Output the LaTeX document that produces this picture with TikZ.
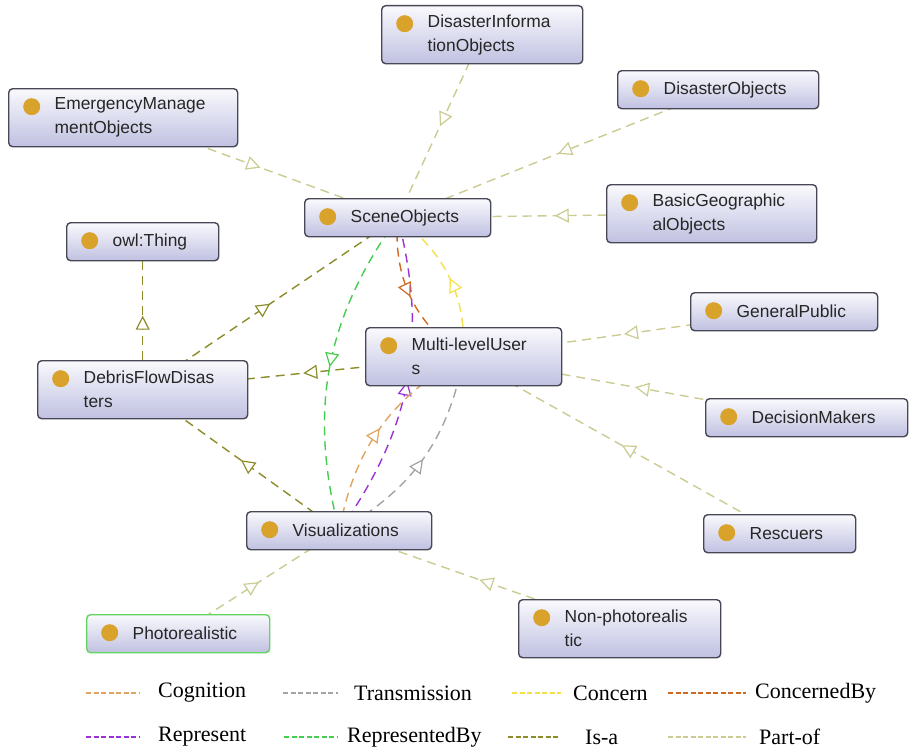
\documentclass[tikz,border=0pt]{standalone}
\usepackage{fontspec}
\setmainfont{Liberation Serif}
\newfontfamily\arialfont{Liberation Sans}
\usetikzlibrary{arrows.meta,decorations.markings,backgrounds}

\definecolor{boxline}{HTML}{474756}
\definecolor{boxtop}{HTML}{F9F9FD}
\definecolor{boxbottom}{HTML}{C0C1E1}
\definecolor{dotcol}{HTML}{D8A22B}
\definecolor{selcol}{HTML}{62D462}
\definecolor{partcol}{HTML}{CBCB92}
\definecolor{isacol}{HTML}{8C8C2A}
\definecolor{cogcol}{HTML}{E2A35E}
\definecolor{transcol}{HTML}{A3A3A3}
\definecolor{concol}{HTML}{F4E04A}
\definecolor{conbycol}{HTML}{D06A22}
\definecolor{repcol}{HTML}{9A32D6}
\definecolor{repbycol}{HTML}{46CC4E}

\tikzset{
  cls/.style={draw=boxline, line width=1.4pt, rounded corners=4pt,
    top color=boxtop, bottom color=boxbottom, anchor=north west,
    text width=#1, align=left, inner xsep=0pt, inner ysep=0pt,
    minimum height=38pt, text=black!85,
    font=\arialfont\fontsize{17.4}{24}\selectfont,
    execute at begin node={\leftskip=46pt},
    path picture={\fill[dotcol] ([shift={(23,18)}]path picture bounding box.north west) circle (8.5pt);}},
  twoline/.style={minimum height=58pt},
  selected/.style={draw=selcol},
  rel/.style={line width=1.4pt, dash pattern=on 9pt off 6pt,
    postaction={decorate}, decoration={markings,
      mark=at position 0.5 with {\arrow{Triangle[open, fill=white, length=14pt, width=14pt, line width=1.2pt]}}}},
  partof/.style={rel, draw=partcol},
  isa/.style={rel, draw=isacol},
  cogn/.style={rel, draw=cogcol},
  trans/.style={rel, draw=transcol},
  concern/.style={rel, draw=concol},
  concby/.style={rel, draw=conbycol},
  repr/.style={rel, draw=repcol},
  reprby/.style={rel, draw=repbycol},
  legline/.style={line width=2.4pt, dash pattern=on 5pt off 2.5pt},
  legtext/.style={anchor=west, inner sep=0pt, font=\fontsize{22}{26}\selectfont}
}

\begin{document}
\begin{tikzpicture}[x=1pt, y=-1pt]
\useasboundingbox (0,0) rectangle (909,752);

% classes
\node[cls=201, twoline] (dio) at (381,5) {DisasterInforma\\tionObjects};
\node[cls=201] (dob) at (617,70) {DisasterObjects};
\node[cls=229, twoline] (emo) at (8,88) {EmergencyManage\\mentObjects};
\node[cls=186] (sce) at (304,198) {SceneObjects};
\node[cls=210, twoline] (bgo) at (606,184) {BasicGeographic\\alObjects};
\node[cls=152] (owl) at (66,222) {owl:Thing};
\node[cls=187] (gp) at (690,292) {GeneralPublic};
\node[cls=196, twoline] (mlu) at (365,327) {Multi-levelUser\\s};
\node[cls=210, twoline] (dfd) at (37,360) {DebrisFlowDisas\\ters};
\node[cls=202] (dm) at (705,398) {DecisionMakers};
\node[cls=185] (vis) at (246,511) {Visualizations};
\node[cls=152] (res) at (703,514) {Rescuers};
\node[cls=183, selected] (pho) at (86,614) {Photorealistic};
\node[cls=202, twoline] (npr) at (518,599) {Non-photorealis\\tic};

\begin{scope}[on background layer]
\fill[white] (0,0) rectangle (909,752);
% part-of
\draw[partof] (emo.center) -- (sce.center);
\draw[partof] (dio.center) -- (sce.center);
\draw[partof] (dob.center) -- (sce.center);
\draw[partof] (bgo.center) -- (sce.center);
\draw[partof] (gp.center) -- (mlu.center);
\draw[partof] (dm.center) -- (mlu.center);
\draw[partof] (res.center) -- (mlu.center);
\draw[partof] (pho.center) -- (vis.center);
\draw[partof] (npr.center) -- (vis.center);
% is-a
\draw[isa] (dfd.center) -- (owl.center);
\draw[isa] (dfd.center) -- (sce.center);
\draw[isa] (mlu.center) -- (dfd.center);
\draw[isa] (vis.center) -- (dfd.center);
% object properties
\draw[reprby] (sce.center) to[bend right=25] (vis.center);
\draw[repr] (vis.center) to[bend right=25] (sce.center);
\draw[cogn] (vis.center) to[bend left=25] (mlu.center);
\draw[trans] (vis.center) to[bend right=25] (mlu.center);
\draw[concern] (mlu.center) to[bend right=28] (sce.center);
\draw[concby] (sce.center) to[bend right=30] (mlu.center);
\end{scope}

% legend
\draw[legline, cogcol] (86,693) -- (140,693);
\node[legtext] (lcog) at (158,693) {Cognition};
\draw[legline, transcol] (283,693) -- (338,693);
\node[legtext] (ltrans) at (354,693) {Transmission};
\draw[legline, concol] (512,693) -- (561,693);
\node[legtext] (lcon) at (573,693) {Concern};
\draw[legline, conbycol] (668,693) -- (746,693);
\node[legtext] (lconby) at (755,693) {ConcernedBy};
\draw[legline, repcol] (86,737) -- (140,737);
\node[legtext] (lrep) at (158,737) {Represent};
\draw[legline, repbycol] (284,737) -- (338,737);
\node[legtext] (lrepby) at (347,737) {RepresentedBy};
\draw[legline, isacol] (508,737) -- (559,737);
\node[legtext] (lisa) at (585,737) {Is-a};
\draw[legline, partcol] (668,737) -- (746,737);
\node[legtext] (lpart) at (759,737) {Part-of};
\end{tikzpicture}
\end{document}
